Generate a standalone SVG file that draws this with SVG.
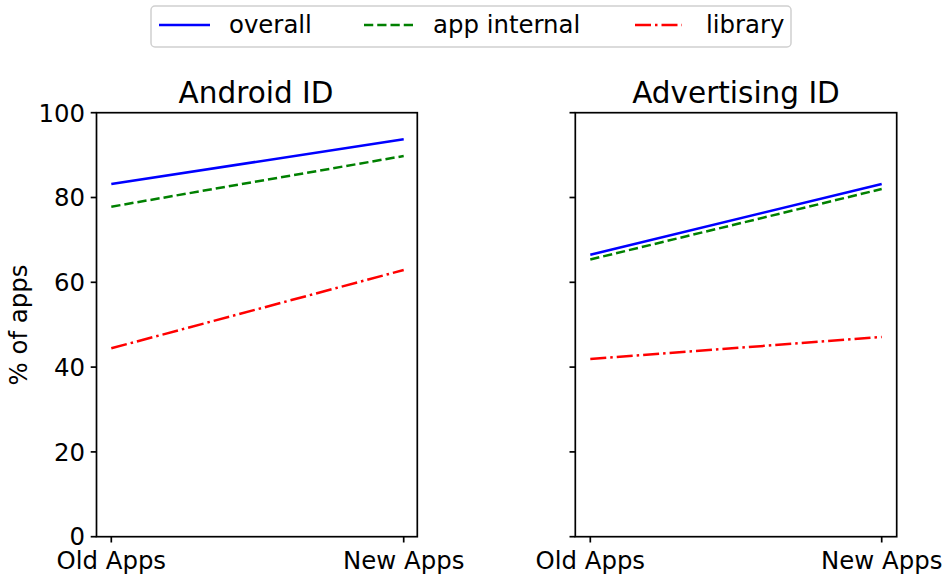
<svg xmlns="http://www.w3.org/2000/svg" width="950" height="577" viewBox="0 0 950 577">
<style>
text{font-family:"DejaVu Sans","Liberation Sans",sans-serif;fill:#000}
.tick{font-size:24.4px}
.title{font-size:29.5px;text-anchor:middle}
.frame{fill:none;stroke:#000;stroke-width:1.7}
.tk{stroke:#000;stroke-width:1.7}
.s{fill:none;stroke-width:2.5}
.overall{stroke:#0000ff}
.internal{stroke:#008000;stroke-dasharray:9.25 4}
.library{stroke:#ff0000;stroke-dasharray:16 4 2.5 4}
</style>
<rect width="950" height="577" fill="#fff"/>
<g id="legend">
<rect x="151" y="6" width="640" height="41" rx="4" fill="#fff" stroke="#d0d0d0" stroke-width="1.5"/>
<line class="s overall" x1="159" y1="25" x2="210" y2="25"/>
<text class="tick" x="229" y="33">overall</text>
<line class="s internal" x1="364" y1="25" x2="413" y2="25"/>
<text class="tick" x="433" y="33">app internal</text>
<line class="s library" x1="635" y1="25" x2="682" y2="25"/>
<text class="tick" x="706" y="33">library</text>
</g>
<g id="android-id">
<text class="title" x="256" y="102.5">Android ID</text>
<rect class="frame" x="96.5" y="112.7" width="320.8" height="424"/>
<g class="tk">
<line x1="90.7" y1="112.7" x2="96.5" y2="112.7"/>
<line x1="90.7" y1="197.5" x2="96.5" y2="197.5"/>
<line x1="90.7" y1="282.3" x2="96.5" y2="282.3"/>
<line x1="90.7" y1="367.1" x2="96.5" y2="367.1"/>
<line x1="90.7" y1="451.9" x2="96.5" y2="451.9"/>
<line x1="90.7" y1="536.7" x2="96.5" y2="536.7"/>
<line x1="111.3" y1="536.7" x2="111.3" y2="542.5"/>
<line x1="403.7" y1="536.7" x2="403.7" y2="542.5"/>
</g>
<g class="tick" text-anchor="end">
<text x="85" y="121.5">100</text>
<text x="85" y="206.3">80</text>
<text x="85" y="291.1">60</text>
<text x="85" y="375.9">40</text>
<text x="85" y="460.7">20</text>
<text x="85" y="544.5">0</text>
</g>
<g class="tick" text-anchor="middle">
<text x="111.3" y="568.5">Old Apps</text>
<text x="403.7" y="568.5">New Apps</text>
</g>
<text class="tick" transform="translate(27,325) rotate(-90)" text-anchor="middle">% of apps</text>
</g>
<g id="advertising-id">
<text class="title" x="736" y="102.5">Advertising ID</text>
<rect class="frame" x="575.3" y="112.7" width="321.4" height="424"/>
<g class="tk">
<line x1="569.5" y1="112.7" x2="575.3" y2="112.7"/>
<line x1="569.5" y1="197.5" x2="575.3" y2="197.5"/>
<line x1="569.5" y1="282.3" x2="575.3" y2="282.3"/>
<line x1="569.5" y1="367.1" x2="575.3" y2="367.1"/>
<line x1="569.5" y1="451.9" x2="575.3" y2="451.9"/>
<line x1="569.5" y1="536.7" x2="575.3" y2="536.7"/>
<line x1="590.3" y1="536.7" x2="590.3" y2="542.5"/>
<line x1="881.7" y1="536.7" x2="881.7" y2="542.5"/>
</g>
<g class="tick" text-anchor="middle">
<text x="590.3" y="568.5">Old Apps</text>
<text x="881.7" y="568.5">New Apps</text>
</g>
</g>
<g id="connectors">
<line class="s overall" x1="111.3" y1="184" x2="403.7" y2="139.3"/>
<line class="s internal" x1="111.3" y1="206.7" x2="403.7" y2="156"/>
<line class="s library" x1="111.3" y1="348.3" x2="403.7" y2="270"/>
<line class="s overall" x1="590.3" y1="254.7" x2="881.7" y2="184"/>
<line class="s internal" x1="590.3" y1="259.5" x2="881.7" y2="189"/>
<line class="s library" x1="590.3" y1="359" x2="881.7" y2="337"/>
</g>
</svg>
